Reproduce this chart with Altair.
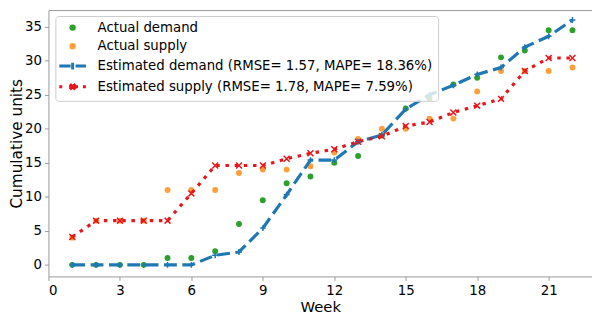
import json
import altair as alt
import pandas as pd

# ---------------- data ----------------
weeks = [1, 2, 3, 4, 5, 6, 7, 8, 9, 10, 11, 12, 13, 14, 15, 16, 17, 18, 19, 20, 21, 22]
actual_demand = [0, 0, 0, 0, 1, 1, 2, 6, 9.5, 12, 13, 15, 16, 19, 23, 24.5, 26.5, 27.5, 30.5, 31.5, 34.5, 34.5]
actual_supply = [4, 6.5, 6.5, 6.5, 11, 11, 11, 13.5, 14, 14, 14.5, 16.5, 18.5, 20, 20, 21.5, 21.5, 25.5, 28.5, 28.5, 28.5, 29]
estimated_demand = [0, 0, 0, 0, 0, 0, 1.4, 1.9, 5.4, 10.3, 15.4, 15.4, 18.1, 19.1, 22.9, 25.0, 26.4, 28.0, 29.0, 32.0, 33.6, 36.0]
estimated_supply = [4.1, 6.5, 6.5, 6.5, 6.5, 10.5, 14.6, 14.6, 14.6, 15.6, 16.4, 17.0, 18.1, 18.9, 20.4, 21.0, 22.4, 23.4, 24.4, 28.5, 30.4, 30.4]

series_names = [
    "Actual demand",
    "Actual supply",
    "Estimated demand (RMSE= 1.57, MAPE= 18.36%)",
    "Estimated supply (RMSE= 1.78, MAPE= 7.59%)",
]
actual_names = series_names[:2]
estimated_names = series_names[2:]

x_ticks = [0, 3, 6, 9, 12, 15, 18, 21]
y_ticks = [0, 5, 10, 15, 20, 25, 30, 35]

# ---------------- styles ----------------
series_colors = ["#2ca02c", "#ff9f3a", "#1f77b4", "#e8161b"]
line_dashes = [[13, 5.6], [3.5, 5.8]]
marker_paths = ["M-1,0H1M0,-1V1", "M-1,-1L1,1M-1,1L1,-1"]
dot_path = "M-0.39,0A0.39,0.39,0,1,0,0.39,0A0.39,0.39,0,1,0,-0.39,0Z"
legend_shapes = [
    dot_path,
    dot_path,
    "M-3,0H-0.45M0.66,0H3M0,-0.75V0.75",
    "M-3,0H-2.33M-0.78,0H-0.11M0.56,0H1.22M2.33,0H3M-0.6,-0.6L0.6,0.6M-0.6,0.6L0.6,-0.6",
]
FONT = "DejaVu Sans"

rows = []
for name, vals in zip(series_names, [actual_demand, actual_supply, estimated_demand, estimated_supply]):
    for w, v in zip(weeks, vals):
        rows.append({"week": w, "value": v, "series": name})
df = pd.DataFrame(rows)


def pick(lst):
    return alt.ExprRef(expr=f"{json.dumps(lst)}[indexof({json.dumps(series_names)}, datum.value)]")


legend = alt.Legend(
    orient="none",
    legendX=7,
    legendY=6,
    padding=5,
    rowPadding=2,
    symbolOffset=5.75,
    labelOffset=18.5,
    labelFont=FONT,
    labelFontSize=13.5,
    labelColor="black",
    labelLimit=400,
    symbolSize=81,
    symbolType=pick(legend_shapes),
    symbolStrokeWidth=3,
    symbolFillColor=alt.ExprRef(expr="scale('color', datum.value)"),
    symbolStrokeColor=alt.ExprRef(expr="scale('color', datum.value)"),
    symbolOpacity=1,
    fillColor="rgba(255,255,255,0.8)",
    strokeColor="#cccccc",
    cornerRadius=3,
)

x_scale = alt.Scale(domain=[0, 22.82], nice=False, zero=False)
y_scale = alt.Scale(domain=[-1.7, 37.45], nice=False, zero=False)

y_enc = alt.Y("value:Q", scale=y_scale, title="Cumulative units",
              axis=alt.Axis(values=y_ticks, titlePadding=0.5, titleFontSize=15.5))
color_enc = alt.Color("series:N", scale=alt.Scale(domain=series_names, range=series_colors),
                      legend=legend, title=None)

base = alt.Chart(df)

points = base.transform_filter(
    alt.FieldOneOfPredicate(field="series", oneOf=actual_names)
).mark_point(filled=True, size=36, opacity=1, strokeWidth=0).encode(
    x=alt.X("week:Q", scale=x_scale, title="Week",
            axis=alt.Axis(values=x_ticks, titlePadding=3)),
    y=y_enc,
    color=color_enc,
)

lines = base.transform_filter(
    alt.FieldOneOfPredicate(field="series", oneOf=estimated_names)
).mark_line(strokeWidth=3.2).encode(
    x=alt.X("week:Q", scale=x_scale, axis=None),
    y=y_enc,
    color=color_enc,
    strokeDash=alt.StrokeDash("series:N", scale=alt.Scale(domain=estimated_names, range=line_dashes), legend=None),
)

markers = base.transform_filter(
    alt.FieldOneOfPredicate(field="series", oneOf=estimated_names)
).mark_point(filled=False, size=36, opacity=1, strokeWidth=1.5).encode(
    x=alt.X("week:Q", scale=x_scale, title=None,
            axis=alt.Axis(orient="top", labels=False, ticks=False, values=x_ticks)),
    y=y_enc,
    color=color_enc,
    shape=alt.Shape("series:N", scale=alt.Scale(domain=estimated_names, range=marker_paths), legend=None),
)

chart = alt.layer(points, lines, markers).resolve_axis(x="independent").properties(
    width=551,
    height=270,
    autosize=alt.AutoSizeParams(type="none"),
    padding={"left": 41, "top": 0, "right": 0, "bottom": 38},
).configure_view(stroke="transparent").configure_axis(
    grid=False,
    domainColor="#999999",
    domainWidth=1,
    tickColor="#999999",
    tickSize=4,
    tickWidth=1,
    labelFont=FONT,
    labelFontSize=13.5,
    labelColor="black",
    labelPadding=3,
    titleFont=FONT,
    titleFontSize=15,
    titleFontWeight="normal",
    titleColor="black",
)

chart.save("out.html", embed_options={"renderer": "svg", "actions": False})
